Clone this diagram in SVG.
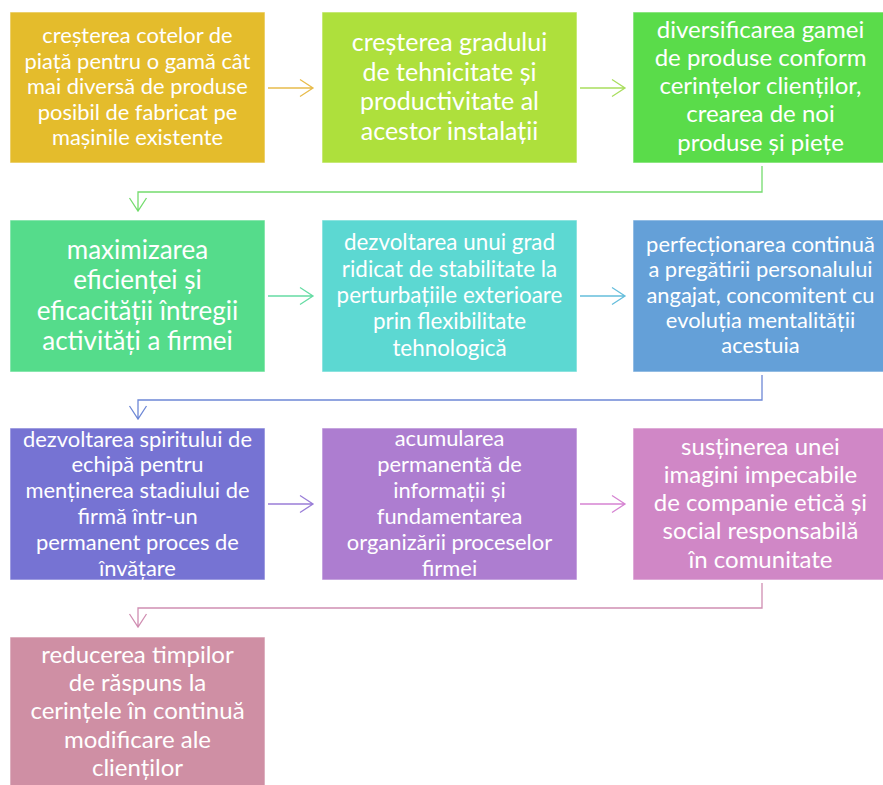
<svg xmlns="http://www.w3.org/2000/svg" width="883" height="785" viewBox="0 0 883 785">
<style>
.box{stroke:#ffffff;stroke-opacity:0.6;stroke-width:1}
.t{font-family:Lato,"Open Sans","Liberation Sans",sans-serif;fill:#ffffff;text-anchor:middle}
.f19{font-size:21.9px}
.f196{font-size:22.4px}
.f21{font-size:24px}
.f22{font-size:25px}
.f23{font-size:26px}
.c{fill:none;stroke-width:1.3}
</style>
<rect width="883" height="785" fill="#ffffff"/>
<g id="connectors">
  <path class="c" stroke="#E8BC4C" d="M268,88 H313 M300,79.5 L313,88 L300,96.5"/>
  <path class="c" stroke="#A9DE5E" d="M580,88 H625 M612,79.5 L625,88 L612,96.5"/>
  <path class="c" stroke="#74DC6E" d="M762,166 V192 H138 V211 M129.5,198 L138,211 L146.5,198"/>
  <path class="c" stroke="#66DCA4" d="M268,296 H313 M300,287.5 L313,296 L300,304.5"/>
  <path class="c" stroke="#66BEDC" d="M580,296 H625 M612,287.5 L625,296 L612,304.5"/>
  <path class="c" stroke="#6E88D6" d="M762,375 V400 H138 V419 M129.5,406 L138,419 L146.5,406"/>
  <path class="c" stroke="#9A7ED8" d="M268,504 H313 M300,495.5 L313,504 L300,512.5"/>
  <path class="c" stroke="#D684D2" d="M580,504 H625 M612,495.5 L625,504 L612,512.5"/>
  <path class="c" stroke="#D08EB2" d="M762,583 V608 H138 V627 M129.5,614 L138,627 L146.5,614"/>
</g>
<g id="n1">
  <rect class="box" x="10" y="12" width="255" height="151" fill="#E4BC2C"/>
  <text class="t f19" x="137.5" y="43.4"><tspan x="137.5">creșterea cotelor de</tspan><tspan x="137.5" dy="25.5">piață pentru o gamă cât</tspan><tspan x="137.5" dy="25.5">mai diversă de produse</tspan><tspan x="137.5" dy="25.5">posibil de fabricat pe</tspan><tspan x="137.5" dy="25.5">mașinile existente</tspan></text>
</g>
<g id="n2">
  <rect class="box" x="322" y="12" width="255" height="151" fill="#AEE03C"/>
  <text class="t f22" x="449.5" y="51"><tspan x="449.5">creșterea gradului</tspan><tspan x="449.5" dy="29.5">de tehnicitate și</tspan><tspan x="449.5" dy="29.5">productivitate al</tspan><tspan x="449.5" dy="29.5">acestor instalații</tspan></text>
</g>
<g id="n3">
  <rect class="box" x="633" y="12" width="255" height="151" fill="#5ADC4A"/>
  <text class="t f21" x="760.5" y="37.5"><tspan x="760.5">diversificarea gamei</tspan><tspan x="760.5" dy="28.3">de produse conform</tspan><tspan x="760.5" dy="28.3">cerințelor clienților,</tspan><tspan x="760.5" dy="28.3">crearea de noi</tspan><tspan x="760.5" dy="28.3">produse și piețe</tspan></text>
</g>
<g id="n4">
  <rect class="box" x="10" y="220" width="255" height="152" fill="#55DC8B"/>
  <text class="t f23" x="137.5" y="258.5"><tspan x="137.5">maximizarea</tspan><tspan x="137.5" dy="30.5">eficienței și</tspan><tspan x="137.5" dy="30.5">eficacității întregii</tspan><tspan x="137.5" dy="30.5">activități a firmei</tspan></text>
</g>
<g id="n5">
  <rect class="box" x="322" y="220" width="255" height="152" fill="#5CD8D2"/>
  <text class="t f196" x="449.5" y="250.3"><tspan x="449.5">dezvoltarea unui grad</tspan><tspan x="449.5" dy="26.3">ridicat de stabilitate la</tspan><tspan x="449.5" dy="26.3">perturbațiile exterioare</tspan><tspan x="449.5" dy="26.3">prin flexibilitate</tspan><tspan x="449.5" dy="26.3">tehnologică</tspan></text>
</g>
<g id="n6">
  <rect class="box" x="633" y="220" width="255" height="152" fill="#64A0D8"/>
  <text class="t f19" x="760.5" y="252"><tspan x="760.5">perfecționarea continuă</tspan><tspan x="760.5" dy="25.3">a pregătirii personalului</tspan><tspan x="760.5" dy="25.3">angajat, concomitent cu</tspan><tspan x="760.5" dy="25.3">evoluția mentalității</tspan><tspan x="760.5" dy="25.3">acestuia</tspan></text>
</g>
<g id="n7">
  <rect class="box" x="10" y="428" width="255" height="152" fill="#7673D3"/>
  <text class="t f19" x="137.5" y="446.6"><tspan x="137.5">dezvoltarea spiritului de</tspan><tspan x="137.5" dy="25.8">echipă pentru</tspan><tspan x="137.5" dy="25.8">menținerea stadiului de</tspan><tspan x="137.5" dy="25.8">firmă într-un</tspan><tspan x="137.5" dy="25.8">permanent proces de</tspan><tspan x="137.5" dy="25.8">învățare</tspan></text>
</g>
<g id="n8">
  <rect class="box" x="322" y="428" width="255" height="152" fill="#AD7DD0"/>
  <text class="t f19" x="449.5" y="445.5"><tspan x="449.5">acumularea</tspan><tspan x="449.5" dy="26">permanentă de</tspan><tspan x="449.5" dy="26">informații și</tspan><tspan x="449.5" dy="26">fundamentarea</tspan><tspan x="449.5" dy="26">organizării proceselor</tspan><tspan x="449.5" dy="26">firmei</tspan></text>
</g>
<g id="n9">
  <rect class="box" x="633" y="428" width="255" height="152" fill="#D087C6"/>
  <text class="t f21" x="760.5" y="454.5"><tspan x="760.5">susținerea unei</tspan><tspan x="760.5" dy="28.3">imagini impecabile</tspan><tspan x="760.5" dy="28.3">de companie etică și</tspan><tspan x="760.5" dy="28.3">social responsabilă</tspan><tspan x="760.5" dy="28.3">în comunitate</tspan></text>
</g>
<g id="n10">
  <rect class="box" x="10" y="637" width="255" height="152" fill="#CF8FA4"/>
  <text class="t f21" x="137.5" y="662.8"><tspan x="137.5">reducerea timpilor</tspan><tspan x="137.5" dy="28.3">de răspuns la</tspan><tspan x="137.5" dy="28.3">cerințele în continuă</tspan><tspan x="137.5" dy="28.3">modificare ale</tspan><tspan x="137.5" dy="28.3">clienților</tspan></text>
</g>
</svg>
